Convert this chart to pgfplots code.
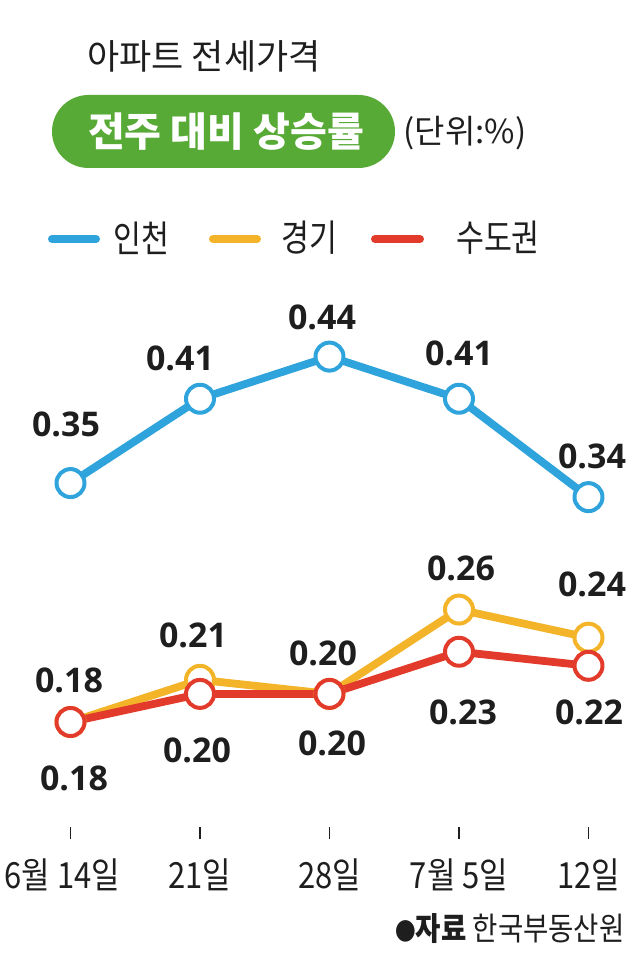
\documentclass[border=0pt]{standalone}
\usepackage{fontspec}
\usepackage{pgfplots}
\usepackage{pgfplotstable}
\pgfplotsset{compat=1.18}
\setmainfont{Noto Sans CJK KR}
\newfontfamily\numfont{Open Sans}
\newfontfamily\legfont{Noto Sans CJK KR}[FakeStretch=0.82]
\newfontfamily\tickfont{Noto Sans CJK KR}[FakeStretch=0.86]
\definecolor{cBlue}{HTML}{2EA3DC}
\definecolor{cOrange}{HTML}{F4B42A}
\definecolor{cRed}{HTML}{E33B2B}
\definecolor{cGreen}{HTML}{58AA36}
\definecolor{cText}{HTML}{1E1E1E}

% x y label-dx label-dy (pt)
\pgfplotstableread{
x y dx dy
0 0.35 -2.25 29.5
1 0.41 -10 20.35
2 0.44 -3.75 19.8
3 0.41 0 22.85
4 0.34 1.75 20.55
}\incheon
\pgfplotstableread{
x y dx dy
0 0.18 -0.75 21
1 0.21 -3.5 22.4
2 0.20 -3.25 20.45
3 0.26 1 20.8
4 0.24 1.75 26.85
}\gyeonggi
\pgfplotstableread{
x y dx dy
0 0.18 1.75 -28
1 0.20 -1.5 -28.05
2 0.20 1.25 -24.55
3 0.23 2 -30.15
4 0.22 0.25 -23.1
}\sudo

\begin{document}
\begin{tikzpicture}
\path[use as bounding box] (0pt,0pt) rectangle (315pt,488pt);

\begin{axis}[
    at={(0pt,74.5pt)}, anchor=south west,
    scale only axis,
    width=315pt, height=273.5pt,
    xmin=-0.5444, xmax=4.3205,
    ymin=0.1053, ymax=0.4945,
    clip=false,
    hide y axis,
    axis x line*=bottom,
    x axis line style={draw=none},
    xtick={0,1,2,3,4},
    xticklabels={{6월 14일\kern8pt},21일,28일,{7월 5일},12일},
    tick align=outside,
    major tick length=6pt,
    tick style={cText, line width=0.8pt},
    xticklabel style={font=\tickfont\fontsize{18pt}{20pt}\selectfont, text=cText, anchor=center, yshift=-18pt},
    /pgf/number format/fixed,
    /pgf/number format/fixed zerofill,
    /pgf/number format/precision=2,
    /pgf/number format/assume math mode=true,
    every axis plot/.append style={line join=round},
    nodes near coords,
    visualization depends on={\thisrow{dx} \as \dx},
    visualization depends on={\thisrow{dy} \as \dy},
    every node near coord/.append style={
        font=\numfont\bfseries\fontsize{17pt}{20pt}\selectfont, text=cText,
        anchor=center, inner sep=0pt, xshift=\dx pt, yshift=\dy pt},
]
\addplot[cBlue, line width=3.9pt, mark=*, mark size=7pt,
    mark options={fill=white, draw=cBlue, line width=2pt}]
    table[x=x, y=y] {\incheon};
\addplot[cOrange, line width=3.9pt, mark=*, mark size=7pt,
    mark options={fill=white, draw=cOrange, line width=2pt}]
    table[x=x, y=y] {\gyeonggi};
\addplot[cRed, line width=3.9pt, mark=*, mark size=7pt,
    mark options={fill=white, draw=cRed, line width=2pt}]
    table[x=x, y=y] {\sudo};
\end{axis}

% title block
\node[font=\fontsize{17.5pt}{20pt}\selectfont, text=cText] at (102pt,460pt) {아파트 전세가격};
\fill[cGreen, rounded corners=18.25pt] (26pt,404pt) rectangle (197.5pt,440.5pt);
\node[font=\bfseries\fontsize{20pt}{22pt}\selectfont, text=white] at (113pt,422pt) {전주 대비 상승률};
\node[font=\fontsize{16.5pt}{19pt}\selectfont, text=cText] at (232.5pt,421.5pt) {(단위:\%)};

% legend
\draw[cBlue, line width=4pt, line cap=round] (26pt,368.5pt) -- (48pt,368.5pt);
\draw[cOrange, line width=4pt, line cap=round] (106.5pt,368.5pt) -- (128.5pt,368.5pt);
\draw[cRed, line width=4pt, line cap=round] (187.5pt,368.5pt) -- (210pt,368.5pt);
\node[font=\legfont\fontsize{18.5pt}{21pt}\selectfont, text=cText] at (70.75pt,369pt) {인천};
\node[font=\legfont\fontsize{18.5pt}{21pt}\selectfont, text=cText] at (154.5pt,369pt) {경기};
\node[font=\legfont\fontsize{18.5pt}{21pt}\selectfont, text=cText] at (249pt,369pt) {수도권};

% source
\node[anchor=east, inner sep=0pt, font=\tickfont\fontsize{16pt}{18pt}\selectfont, text=cText]
    at (312.5pt,23.75pt) {{\fontsize{12pt}{14pt}\selectfont ●}\textbf{자료} 한국부동산원};
\end{tikzpicture}
\end{document}
